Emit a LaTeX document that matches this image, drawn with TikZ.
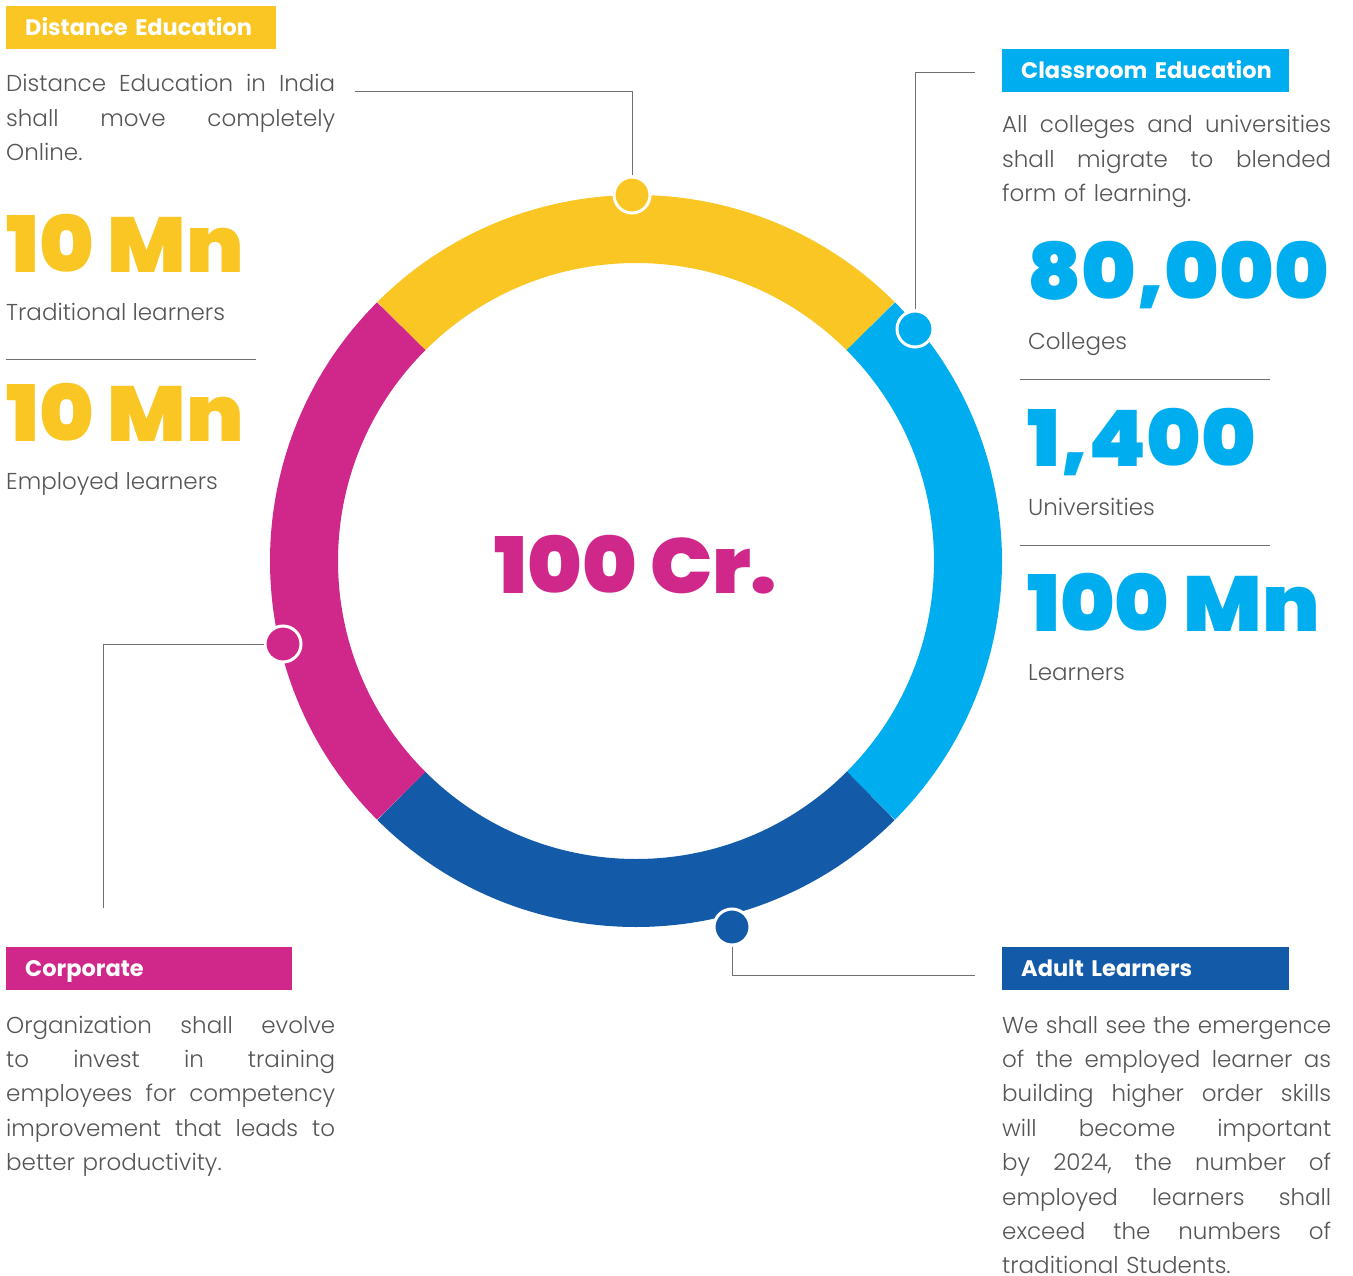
\documentclass[tikz,border=0pt]{standalone}
\usepackage{fontspec}
\setmainfont{Poppins}[UprightFont={* Light}, BoldFont={* Bold}]
\newfontfamily\heavyfont{Poppins}[UprightFont={* Black}, FakeStretch=1.06]
\definecolor{eduyellow}{HTML}{F9C623}
\definecolor{educyan}{HTML}{00AEEF}
\definecolor{edunavy}{HTML}{135BA8}
\definecolor{edupink}{HTML}{D0288A}
\definecolor{bodygray}{HTML}{555555}
\definecolor{leadgray}{HTML}{707070}
\newcommand{\jline}[1]{\makebox[329pt][s]{\frenchspacing\spaceskip=0.26em plus 1fil\relax #1}}
\begin{document}
\begin{tikzpicture}[x=1pt, y=-1pt,
    tag/.style={anchor=north west, inner sep=0pt, minimum height=43pt, text width=#1, text height=21pt, text depth=5pt, align=left, text=white, font=\fontsize{22.5}{26}\selectfont\bfseries, execute at begin node=\hspace*{19pt}},
    body/.style={anchor=base west, inner sep=0pt, text width=329pt, align=left, text=bodygray, font=\fontsize{23}{34.4}\selectfont},
    bignum/.style={anchor=base west, inner sep=0pt, font=\fontsize{78}{80}\selectfont\heavyfont},
    caption/.style={anchor=base west, inner sep=0pt, text=bodygray, font=\fontsize{23}{26}\selectfont},
    ring/.style={line width=68pt},
    dot/.style={circle, draw=white, line width=3pt, minimum size=36pt, inner sep=0pt},
    leader/.style={draw=leadgray, line width=1pt}]
    \useasboundingbox (0,0) rectangle (1353,1276);
    % ring
    \coordinate (ctr) at (636,561);
    \foreach \a/\col in {225/eduyellow,315/educyan,45/edunavy,135/edupink}{
      \draw[ring, \col] (ctr) ++(\a:332) arc[start angle=\a, end angle=\a+90, radius=332];
    }
    \node[bignum, text=edupink, anchor=base] (total) at (636,593) {100\,Cr.};
    % dots
    \node[dot, fill=eduyellow] (ydot) at (632,195) {};
    \node[dot, fill=educyan] (cdot) at (915,329) {};
    \node[dot, fill=edunavy] (ndot) at (732,927) {};
    \node[dot, fill=edupink] (pdot) at (283,644) {};
    \coordinate (distEnd) at (355,92);
    \coordinate (classEnd) at (975,73);
    \coordinate (adultEnd) at (975,975);
    \coordinate (corpEnd) at (103,908);
    \draw[leader] (ydot.north) |- (distEnd);
    \draw[leader] (cdot.north) |- (classEnd);
    \draw[leader] (ndot.south) |- (adultEnd);
    \draw[leader] (pdot.west) -| (corpEnd);
    % distance education
    \node[tag=270pt, fill=eduyellow] (distTag) at (6,6) {Distance Education};
    \node[body] (distText) at (6,92) {\jline{Distance Education in India}\\ \jline{shall move completely}\\ Online.};
    \node[bignum, text=eduyellow] (tradNum) at (6,273) {10 Mn};
    \node[caption] (tradCap) at (6,320) {Traditional learners};
    \draw[leader] (6,359) -- (256,359);
    \node[bignum, text=eduyellow] (empNum) at (6,441) {10 Mn};
    \node[caption] (empCap) at (6,489) {Employed learners};
    % classroom education
    \node[tag=287pt, fill=educyan] (classTag) at (1002,49) {Classroom Education};
    \node[body] (classText) at (1002,133) {\jline{All colleges and universities}\\ \jline{shall migrate to blended}\\ form of learning.};
    \node[bignum, text=educyan] (collNum) at (1027,300) {80,000};
    \node[caption] (collCap) at (1028,349) {Colleges};
    \draw[leader] (1020,379) -- (1270,379);
    \node[bignum, text=educyan] (uniNum) at (1027,466) {1,400};
    \node[caption] (uniCap) at (1028,515) {Universities};
    \draw[leader] (1020,545) -- (1270,545);
    \node[bignum, text=educyan] (learnNum) at (1027,631) {100 Mn};
    \node[caption] (learnCap) at (1028,680) {Learners};
    % corporate
    \node[tag=286pt, fill=edupink] (corpTag) at (6,947) {Corporate};
    \node[body] (corpText) at (6,1033) {\jline{Organization shall evolve}\\ \jline{to invest in training}\\ \jline{employees for competency}\\ \jline{improvement that leads to}\\ better productivity.};
    % adult learners
    \node[tag=287pt, fill=edunavy] (adultTag) at (1002,947) {Adult Learners};
    \node[body] (adultText) at (1002,1033) {\jline{We shall see the emergence}\\ \jline{of the employed learner as}\\ \jline{building higher order skills}\\ \jline{will become important}\\ \jline{by 2024, the number of}\\ \jline{employed learners shall}\\ \jline{exceed the numbers of}\\ traditional Students.};
\end{tikzpicture}
\end{document}
